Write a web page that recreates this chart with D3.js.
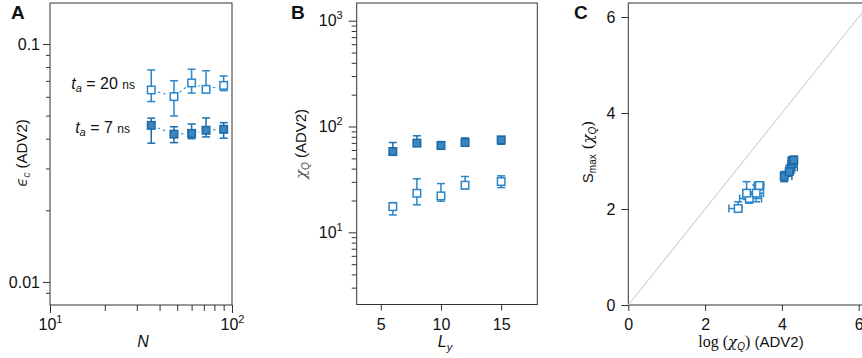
<!DOCTYPE html>
<html><head><meta charset="utf-8">
<script src="https://cdn.jsdelivr.net/npm/d3@7"></script>
<style>body{margin:0;background:#fff} svg{display:block} text{font-family:"Liberation Sans",Arial,sans-serif;fill:#111}</style>
</head><body><svg id="c" width="862" height="358"></svg>
<script>
// ---------- Panel A data ----------
const N = [36, 48, 60, 72, 90];
const eps20 = [0.0641, 0.0601, 0.0686, 0.0645, 0.0670];
const eps20Lo = [0.0573, 0.0498, 0.0622, 0.0624, 0.0637];
const eps20Hi = [0.0778, 0.0701, 0.0783, 0.0772, 0.0734];
const eps7 = [0.0455, 0.0418, 0.0421, 0.0434, 0.0438];
const eps7Lo = [0.0383, 0.0385, 0.0400, 0.0407, 0.0402];
const eps7Hi = [0.0488, 0.0449, 0.0461, 0.0489, 0.0467];
const aXTicks = [10, 100];
const aYTicks = [0.01, 0.1];

// ---------- Panel B data ----------
const Ly = [6, 8, 10, 12, 15];
const chiFilled = [58, 69.7, 66.1, 70.6, 74.8];
const chiFilledLo = [55, 66, 62.5, 67, 68];
const chiFilledHi = [70.6, 81.7, 72, 78, 80];
const chiOpen = [17.5, 23.4, 22.1, 27.9, 30.2];
const chiOpenLo = [14.6, 18.2, 19.7, 25.8, 26.5];
const chiOpenHi = [19.1, 32.1, 28.9, 33.7, 34.2];
const bXTicks = [5, 10, 15];
const bYTicks = [10, 100, 1000];

// ---------- Panel C data ----------
const cOpenX = [2.86, 3.15, 3.08, 3.33, 3.41];
const cOpenXLo = [2.62, 2.90, 2.98, 3.25, 3.28];
const cOpenXHi = [2.95, 3.47, 3.36, 3.52, 3.53];
const cOpenY = [2.01, 2.22, 2.33, 2.33, 2.49];
const cOpenYLo = [1.95, 2.12, 2.20, 2.15, 2.40];
const cOpenYHi = [2.15, 2.35, 2.57, 2.50, 2.55];
const cFillX = [4.06, 4.24, 4.19, 4.26, 4.31];
const cFillXLo = [4.02, 4.19, 4.14, 4.21, 4.22];
const cFillXHi = [4.26, 4.40, 4.28, 4.36, 4.38];
const cFillY = [2.68, 2.87, 2.78, 3.00, 3.02];
const cFillYLo = [2.57, 2.75, 2.70, 2.90, 2.92];
const cFillYHi = [2.78, 3.00, 2.90, 3.08, 3.10];
const cTicks = [0, 2, 4, 6];

const OPEN = {stroke: "#2a86c8", fill: "#fff", err: "#2a86c8"};
const FILL = {stroke: "#1c69a6", fill: "#3a86c0", err: "#1c6fae"};
const MS = 7.5, CAP = 4;

const svg = d3.select("#c");

function minorLog(lo, hi) {
  const out = [];
  for (let e = Math.floor(Math.log10(lo)); e <= Math.ceil(Math.log10(hi)); e++) {
    for (let m = 2; m <= 9; m++) { const v = m * Math.pow(10, e); if (v >= lo && v <= hi) out.push(v); }
  }
  return out;
}
function supLabel(sel) {
  sel.each(function () {
    const t = d3.select(this); const s = t.text();
    const m = s.match(/^10\^(\d)$/);
    if (m) { t.text(null); t.append("tspan").text("10"); t.append("tspan").attr("dy", -7).attr("font-size", 11).text(m[1]); }
  });
}
function styleAxis(g) {
  g.select(".domain").remove();
  g.selectAll("line").attr("stroke", "#333").attr("stroke-width", 1);
  g.selectAll("text").attr("font-size", 16).attr("fill", "#111").attr("font-family", '"Liberation Sans",Arial,sans-serif');
}
function frame(x0, x1, y0, y1) {
  svg.append("rect").attr("x", x0).attr("y", y0).attr("width", x1 - x0).attr("height", y1 - y0)
    .attr("fill", "none").attr("stroke", "#333").attr("stroke-width", 1);
}
function vErr(g, x, lo, hi, col) {
  g.append("line").attr("x1", x).attr("x2", x).attr("y1", lo).attr("y2", hi).attr("stroke", col).attr("stroke-width", 1.5);
  [lo, hi].forEach(y => g.append("line").attr("x1", x - CAP).attr("x2", x + CAP).attr("y1", y).attr("y2", y).attr("stroke", col).attr("stroke-width", 1.5));
}
function hErr(g, y, lo, hi, col) {
  g.append("line").attr("y1", y).attr("y2", y).attr("x1", lo).attr("x2", hi).attr("stroke", col).attr("stroke-width", 1.5);
  [lo, hi].forEach(x => g.append("line").attr("y1", y - CAP).attr("y2", y + CAP).attr("x1", x).attr("x2", x).attr("stroke", col).attr("stroke-width", 1.5));
}
function marker(g, x, y, st) {
  g.append("rect").attr("x", x - MS / 2).attr("y", y - MS / 2).attr("width", MS).attr("height", MS)
    .attr("fill", st.fill).attr("stroke", st.stroke).attr("stroke-width", 1.5);
}
function panelLetter(x, t) {
  svg.append("text").attr("x", x).attr("y", 19).attr("font-size", 19).attr("font-weight", "bold").text(t);
}

// ================= Panel A =================
{
  const L = 50, R = 232, T = 3, B = 305;
  const x = d3.scaleLog().domain([10, 100]).range([L, R]);
  const y = d3.scaleLog().domain([0.008, 0.1487]).range([B, T]);
  frame(L, R, T, B);
  const gx = svg.append("g").attr("transform", `translate(0,${B})`);
  gx.call(d3.axisBottom(x).tickValues(aXTicks).tickSize(8).tickPadding(6).tickFormat(d => "10^" + Math.round(Math.log10(d))));
  styleAxis(gx); gx.selectAll("text").call(supLabel);
  const gxm = svg.append("g").attr("transform", `translate(0,${B})`);
  gxm.call(d3.axisBottom(x).tickValues(minorLog(11, 99)).tickSize(6).tickFormat(""));
  styleAxis(gxm);
  const gy = svg.append("g").attr("transform", `translate(${L},0)`);
  gy.call(d3.axisLeft(y).tickValues(aYTicks).tickSize(7).tickPadding(3).tickFormat(d => d === 0.1 ? "0.1" : "0.01"));
  styleAxis(gy);
  const gym = svg.append("g").attr("transform", `translate(${L},0)`);
  gym.call(d3.axisLeft(y).tickValues(minorLog(0.0081, 0.099).filter(v => Math.abs(v - 0.01) > 1e-9)).tickSize(4).tickFormat(""));
  styleAxis(gym);

  const g = svg.append("g");
  function series(vals, lo, hi, st) {
    for (let i = 0; i < N.length - 1; i++) {
      const x1 = x(N[i]), y1 = y(vals[i]), x2 = x(N[i + 1]), y2 = y(vals[i + 1]);
      const dx = x2 - x1, dy = y2 - y1, len = Math.hypot(dx, dy), s = 7 / len;
      g.append("line").attr("x1", x1 + dx * s).attr("y1", y1 + dy * s).attr("x2", x2 - dx * s).attr("y2", y2 - dy * s)
        .attr("stroke", "#3a8fd0").attr("stroke-width", 1.1).attr("stroke-dasharray", "2.5,3");
    }
    N.forEach((n, i) => vErr(g, x(n), y(lo[i]), y(hi[i]), st.err));
    N.forEach((n, i) => marker(g, x(n), y(vals[i]), st));
  }
  series(eps20, eps20Lo, eps20Hi, OPEN);
  series(eps7, eps7Lo, eps7Hi, FILL);

  function tlabel(xe, yb, val) {
    const t = svg.append("text").attr("x", xe).attr("y", yb).attr("text-anchor", "end").attr("font-size", 16);
    t.append("tspan").attr("font-style", "italic").text("t");
    t.append("tspan").attr("font-size", 11).attr("dy", 3).attr("font-style", "italic").text("a");
    t.append("tspan").attr("dy", -3).text(" = " + val + " ");
    t.append("tspan").attr("font-size", 12).text("ns");
  }
  tlabel(135, 89, "20");
  tlabel(130, 133, "7");

  const yl = svg.append("text").attr("transform", `translate(27,153) rotate(-90)`).attr("text-anchor", "middle").attr("font-size", 15);
  yl.append("tspan").attr("font-style", "italic").attr("font-family", '"DejaVu Sans",sans-serif').attr("fill", "#444").text("ϵ");
  yl.append("tspan").attr("font-size", 10).attr("dy", 3).attr("font-style", "italic").attr("fill", "#444").text("c");
  yl.append("tspan").attr("dy", -3).text(" (ADV2)");
  svg.append("text").attr("x", 143).attr("y", 347).attr("text-anchor", "middle").attr("font-size", 16).attr("font-style", "italic").text("N");
  panelLetter(11, "A");
}

// ================= Panel B =================
{
  const L = 356.7, R = 537.3, T = 3, B = 304.5;
  const x = d3.scaleLinear().domain([3, 18]).range([L, R]);
  const y = d3.scaleLog().domain([2.08, 1470]).range([B, T]);
  frame(L, R, T, B);
  const gx = svg.append("g").attr("transform", `translate(0,${B})`);
  gx.call(d3.axisBottom(x).tickValues(bXTicks).tickSize(6).tickPadding(8).tickFormat(d3.format("d")));
  styleAxis(gx);
  const gy = svg.append("g").attr("transform", `translate(${L},0)`);
  gy.call(d3.axisLeft(y).tickValues(bYTicks).tickSize(8).tickPadding(6).tickFormat(d => "10^" + Math.round(Math.log10(d))));
  styleAxis(gy); gy.selectAll("text").call(supLabel);
  const gym = svg.append("g").attr("transform", `translate(${L},0)`);
  gym.call(d3.axisLeft(y).tickValues(minorLog(2.08, 999).filter(v => Math.abs(Math.log10(v) - Math.round(Math.log10(v))) > 1e-6)).tickSize(5).tickFormat(""));
  styleAxis(gym);

  const g = svg.append("g");
  Ly.forEach((l, i) => vErr(g, x(l), y(chiOpenLo[i]), y(chiOpenHi[i]), OPEN.err));
  Ly.forEach((l, i) => marker(g, x(l), y(chiOpen[i]), OPEN));
  Ly.forEach((l, i) => vErr(g, x(l), y(chiFilledLo[i]), y(chiFilledHi[i]), FILL.err));
  Ly.forEach((l, i) => marker(g, x(l), y(chiFilled[i]), FILL));

  const yl = svg.append("text").attr("transform", `translate(306,144) rotate(-90)`).attr("text-anchor", "middle").attr("font-size", 15);
  yl.append("tspan").attr("font-style", "italic").attr("font-family", '"DejaVu Serif",serif').attr("fill", "#555").text("χ");
  yl.append("tspan").attr("font-size", 10).attr("dy", 3).attr("font-style", "italic").attr("fill", "#555").text("Q");
  yl.append("tspan").attr("dy", -3).text(" (ADV2)");
  const xl = svg.append("text").attr("x", 445).attr("y", 347).attr("text-anchor", "middle").attr("font-size", 16);
  xl.append("tspan").attr("font-style", "italic").text("L");
  xl.append("tspan").attr("font-style", "italic").attr("font-size", 11).attr("dy", 4).text("y");
  panelLetter(291, "B");
}

// ================= Panel C =================
{
  const L = 628.3, T = 3, B = 305;
  const x = d3.scaleLinear().domain([0, 6.3]).range([L, L + 6.3 * 38.4]);
  const y = d3.scaleLinear().domain([0, 6.3]).range([B, B - 6.3 * 48]);
  frame(L, x(6.3), T, B);
  svg.append("line").attr("x1", x(0)).attr("y1", y(0)).attr("x2", x(6.3)).attr("y2", y(6.3)).attr("stroke", "#d4d4d4").attr("stroke-width", 1.2);
  const gx = svg.append("g").attr("transform", `translate(0,${B})`);
  gx.call(d3.axisBottom(x).tickValues(cTicks).tickSize(6).tickPadding(8).tickFormat(d3.format("d")));
  styleAxis(gx);
  const gy = svg.append("g").attr("transform", `translate(${L},0)`);
  gy.call(d3.axisLeft(y).tickValues(cTicks).tickSize(7).tickPadding(6).tickFormat(d3.format("d")));
  styleAxis(gy);

  const g = svg.append("g");
  cOpenX.forEach((v, i) => { hErr(g, y(cOpenY[i]), x(cOpenXLo[i]), x(cOpenXHi[i]), OPEN.err); vErr(g, x(v), y(cOpenYLo[i]), y(cOpenYHi[i]), OPEN.err); });
  cOpenX.forEach((v, i) => marker(g, x(v), y(cOpenY[i]), OPEN));
  cFillX.forEach((v, i) => { hErr(g, y(cFillY[i]), x(cFillXLo[i]), x(cFillXHi[i]), FILL.err); vErr(g, x(v), y(cFillYLo[i]), y(cFillYHi[i]), FILL.err); });
  cFillX.forEach((v, i) => marker(g, x(v), y(cFillY[i]), FILL));

  const yl = svg.append("text").attr("transform", `translate(593,152) rotate(-90)`).attr("text-anchor", "middle").attr("font-size", 15);
  yl.append("tspan").text("S");
  yl.append("tspan").attr("font-size", 10).attr("dy", 3).text("max");
  yl.append("tspan").attr("dy", -3).attr("font-family", '"DejaVu Serif",serif').text(" (");
  yl.append("tspan").attr("font-style", "italic").attr("font-family", '"DejaVu Serif",serif').text("χ");
  yl.append("tspan").attr("font-size", 10).attr("dy", 3).attr("font-style", "italic").text("Q");
  yl.append("tspan").attr("dy", -3).attr("font-family", '"DejaVu Serif",serif').text(")");
  const xl = svg.append("text").attr("x", 751).attr("y", 347).attr("text-anchor", "middle").attr("font-size", 15);
  xl.append("tspan").attr("font-family", '"Liberation Serif",serif').attr("font-size", 16).text("log (");
  xl.append("tspan").attr("font-style", "italic").attr("font-family", '"DejaVu Serif",serif').text("χ");
  xl.append("tspan").attr("font-size", 10).attr("dy", 3).attr("font-style", "italic").text("Q");
  xl.append("tspan").attr("dy", -3).attr("font-family", '"Liberation Serif",serif').attr("font-size", 16).text(")");
  xl.append("tspan").text(" (ADV2)");
  panelLetter(574, "C");
}
</script></body></html>
